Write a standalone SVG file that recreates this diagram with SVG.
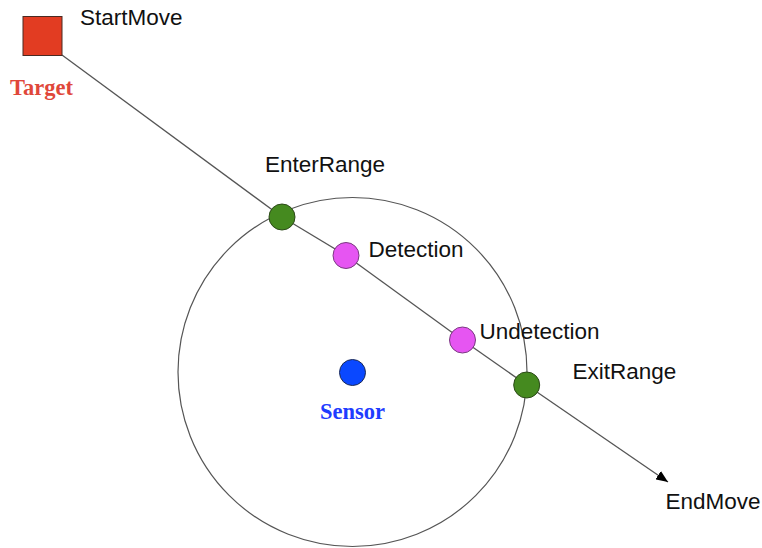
<svg xmlns="http://www.w3.org/2000/svg" width="762" height="548" viewBox="0 0 762 548">
  <style>
    .lbl { font-family: "Liberation Sans", Arial, sans-serif; font-size: 22.5px; fill: #111; }
    .tag { font-family: "Liberation Serif", "Times New Roman", serif; font-size: 22.5px; font-weight: bold; }
    .path { stroke: #555; stroke-width: 1.3; fill: none; }
    .range { stroke: #555; stroke-width: 1.2; fill: none; }
    .enter, .exit { fill: #458a1f; stroke: #2c4a18; stroke-width: 1; }
    .detect { fill: #e655f2; stroke: #7a3a80; stroke-width: 1; }
  </style>
  <defs>
    <marker id="arrow" viewBox="0 0 12 10" refX="12" refY="5" markerWidth="12" markerHeight="10" markerUnits="userSpaceOnUse" orient="auto">
      <path d="M0,0 L12,5 L0,10 z" fill="#000"/>
    </marker>
  </defs>
  <rect width="762" height="548" fill="#fff"/>

  <!-- sensor range -->
  <g id="range">
    <circle class="range" cx="352.5" cy="372" r="174.5"/>
  </g>

  <!-- target trajectory -->
  <g id="connectors">
    <line class="path" x1="62" y1="55" x2="282" y2="217"/>
    <line class="path" x1="282" y1="217" x2="346" y2="255.5"/>
    <line class="path" x1="346" y1="255.5" x2="462.5" y2="340"/>
    <line class="path" x1="462.5" y1="340" x2="526.7" y2="385"/>
    <line class="path" x1="526.7" y1="385" x2="668" y2="482" marker-end="url(#arrow)"/>
  </g>

  <g id="target">
    <rect x="23" y="16.5" width="39" height="39" fill="#e23c22" stroke="#4a2a22" stroke-width="1"/>
    <text class="tag" x="10" y="94.5" fill="#e0473a">Target</text>
  </g>
  <g id="start-move">
    <text class="lbl" x="80" y="25">StartMove</text>
  </g>

  <g id="enter-range">
    <circle class="enter" cx="282" cy="217" r="13"/>
    <text class="lbl" x="265" y="172">EnterRange</text>
  </g>

  <g id="detection">
    <circle class="detect" cx="346" cy="255.5" r="13"/>
    <text class="lbl" x="368.5" y="256.5">Detection</text>
  </g>

  <g id="undetection">
    <circle class="detect" cx="462.5" cy="340" r="13"/>
    <text class="lbl" x="479.5" y="339">Undetection</text>
  </g>

  <g id="exit-range">
    <circle class="exit" cx="526.7" cy="385" r="13"/>
    <text class="lbl" x="572.5" y="378.5">ExitRange</text>
  </g>

  <g id="end-move">
    <text class="lbl" x="665.5" y="508.5">EndMove</text>
  </g>

  <g id="sensor">
    <circle cx="352.5" cy="372.5" r="13" fill="#0a48ff" stroke="#1c2a55" stroke-width="1"/>
    <text class="tag" x="320" y="419" fill="#1f3cff">Sensor</text>
  </g>
</svg>
